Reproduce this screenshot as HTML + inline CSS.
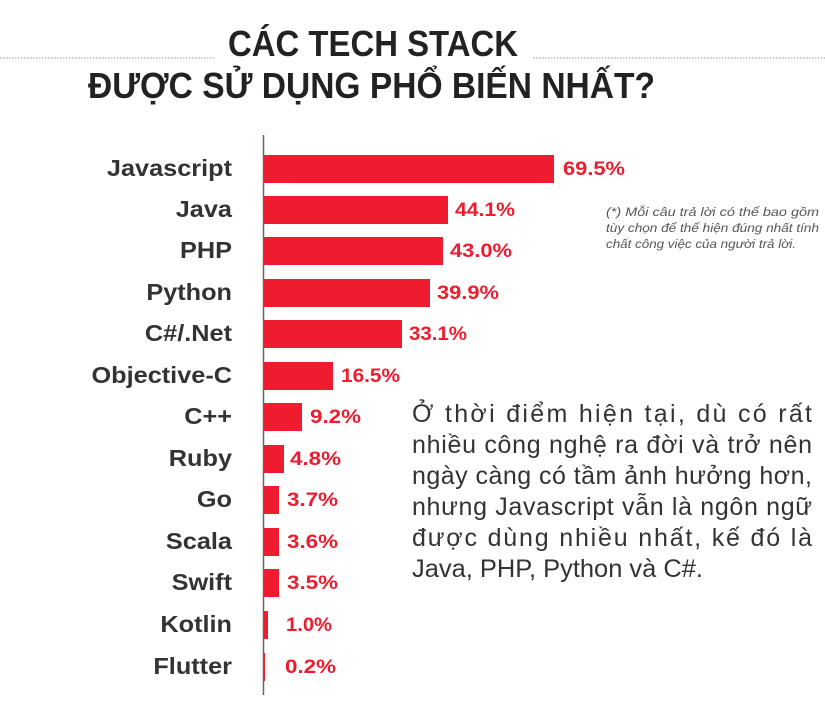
<!DOCTYPE html>
<html><head><meta charset="utf-8"><style>
html,body{margin:0;padding:0;background:#fff;}
svg{display:block;}
</style></head><body>
<svg width="825" height="706" viewBox="0 0 825 706" xmlns="http://www.w3.org/2000/svg">
<line x1="0" y1="58" x2="214" y2="58" stroke="#999" stroke-width="1" stroke-dasharray="1.5,1.5"/>
<line x1="533" y1="58" x2="825" y2="58" stroke="#999" stroke-width="1" stroke-dasharray="1.5,1.5"/>
<g font-family="Liberation Sans, sans-serif" font-weight="bold" fill="#222">
<text x="228" y="56" font-size="36" textLength="290" lengthAdjust="spacingAndGlyphs">CÁC TECH STACK</text>
<text x="88" y="98" font-size="36" textLength="567" lengthAdjust="spacingAndGlyphs">ĐƯỢC SỬ DỤNG PHỔ BIẾN NHẤT?</text>
</g>
<line x1="263.5" y1="135" x2="263.5" y2="695" stroke="#666" stroke-width="1.5"/>
<g font-family="Liberation Sans, sans-serif" font-weight="bold">
<g fill="#333" font-size="23" text-anchor="end" transform="translate(232,0) scale(1.1,1) translate(-232,0)">
<text x="232" y="176">Javascript</text>
<text x="232" y="217">Java</text>
<text x="232" y="258">PHP</text>
<text x="232" y="300">Python</text>
<text x="232" y="341">C#/.Net</text>
<text x="232" y="383">Objective-C</text>
<text x="232" y="424">C++</text>
<text x="232" y="466">Ruby</text>
<text x="232" y="507">Go</text>
<text x="232" y="549">Scala</text>
<text x="232" y="590">Swift</text>
<text x="232" y="632">Kotlin</text>
<text x="232" y="674">Flutter</text>
</g>
<g fill="#ee1c2e">
<rect x="264" y="155" width="290" height="28"/>
<rect x="264" y="196" width="184" height="28"/>
<rect x="264" y="237" width="179" height="28"/>
<rect x="264" y="279" width="166" height="28"/>
<rect x="264" y="320" width="138" height="28"/>
<rect x="264" y="362" width="69" height="28"/>
<rect x="264" y="403" width="38" height="28"/>
<rect x="264" y="445" width="20" height="28"/>
<rect x="264" y="486" width="15" height="28"/>
<rect x="264" y="528" width="15" height="28"/>
<rect x="264" y="569" width="15" height="28"/>
<rect x="264" y="611" width="4" height="28"/>
<rect x="264" y="653" width="1" height="28"/>
</g>
<g fill="#ee1c2e" font-size="19">
<text x="563" y="175" textLength="62" lengthAdjust="spacingAndGlyphs">69.5%</text>
<text x="455" y="216" textLength="60" lengthAdjust="spacingAndGlyphs">44.1%</text>
<text x="450" y="257" textLength="62" lengthAdjust="spacingAndGlyphs">43.0%</text>
<text x="437" y="299" textLength="62" lengthAdjust="spacingAndGlyphs">39.9%</text>
<text x="409" y="340" textLength="58" lengthAdjust="spacingAndGlyphs">33.1%</text>
<text x="341" y="382" textLength="59" lengthAdjust="spacingAndGlyphs">16.5%</text>
<text x="310" y="423" textLength="51" lengthAdjust="spacingAndGlyphs">9.2%</text>
<text x="290" y="465" textLength="51" lengthAdjust="spacingAndGlyphs">4.8%</text>
<text x="287" y="506" textLength="51" lengthAdjust="spacingAndGlyphs">3.7%</text>
<text x="287" y="548" textLength="51" lengthAdjust="spacingAndGlyphs">3.6%</text>
<text x="287" y="589" textLength="51" lengthAdjust="spacingAndGlyphs">3.5%</text>
<text x="286" y="631" textLength="46" lengthAdjust="spacingAndGlyphs">1.0%</text>
<text x="285" y="673" textLength="51" lengthAdjust="spacingAndGlyphs">0.2%</text>
</g>
</g>
<g font-family="Liberation Sans, sans-serif" font-style="italic" fill="#555" font-size="11.5">
<text x="606" y="216" textLength="213" lengthAdjust="spacingAndGlyphs">(*) Mỗi câu trả lời có thể bao gồm</text>
<text x="606" y="232" textLength="213" lengthAdjust="spacingAndGlyphs">tùy chọn để thể hiện đúng nhất tính</text>
<text x="606" y="248" textLength="190" lengthAdjust="spacingAndGlyphs">chất công việc của người trả lời.</text>
</g>
<g font-family="Liberation Sans, sans-serif" fill="#333" font-size="25">
<text x="412" y="422" textLength="400" lengthAdjust="spacing">Ở thời điểm hiện tại, dù có rất</text>
<text x="412" y="453" textLength="400" lengthAdjust="spacing">nhiều công nghệ ra đời và trở nên</text>
<text x="412" y="484" textLength="400" lengthAdjust="spacing">ngày càng có tầm ảnh hưởng hơn,</text>
<text x="412" y="515" textLength="400" lengthAdjust="spacing">nhưng Javascript vẫn là ngôn ngữ</text>
<text x="412" y="546" textLength="400" lengthAdjust="spacing">được dùng nhiều nhất, kế đó là</text>
<text x="412" y="577" textLength="291" lengthAdjust="spacingAndGlyphs">Java, PHP, Python và C#.</text>
</g>
</svg>
</body></html>
